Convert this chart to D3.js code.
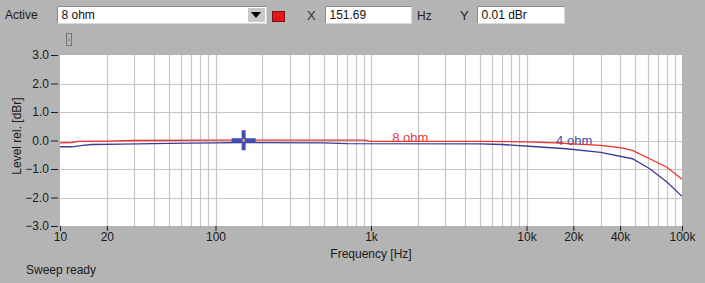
<!DOCTYPE html>
<html><head><meta charset="utf-8">
<script src="https://cdn.jsdelivr.net/npm/d3@7"></script>
<style>
html,body{margin:0;padding:0;background:#b4b4b4;}
svg{display:block;font-family:"Liberation Sans",Arial,sans-serif;}
</style></head>
<body><svg id="c" width="705" height="283"></svg>
<script>
// ---- data ----
const freq8 = [10, 12, 13, 20, 30, 100, 150, 300, 900, 1000, 5000, 10000, 15000, 20000, 30000, 40000, 48000, 62000, 80000, 100000];
const level8 = [-0.08, -0.07, -0.03, -0.02, 0.0, 0.01, 0.01, 0.01, 0.01, -0.03, -0.03, -0.05, -0.08, -0.12, -0.17, -0.25, -0.35, -0.64, -0.94, -1.36];
const freq4 = [10, 12, 14, 16, 25, 50, 100, 150, 500, 700, 5000, 7000, 11000, 18000, 30000, 48000, 62000, 80000, 100000];
const level4 = [-0.22, -0.22, -0.17, -0.14, -0.13, -0.10, -0.08, -0.07, -0.08, -0.11, -0.12, -0.14, -0.21, -0.29, -0.42, -0.64, -0.99, -1.46, -1.96];
const seriesNames = ["8 ohm", "4 ohm"];
const labelFreq = [1370, 15500];
const labelLevel = [0.12, 0.0];
const yTicks = [3, 2, 1, 0, -1, -2, -3];
const xTickVals = [10, 20, 100, 1000, 10000, 20000, 40000, 100000];
const xTickLabels = ["10", "20", "100", "1k", "10k", "20k", "40k", "100k"];
const cursorFreq = 151.69, cursorLevel = 0.01;

// ---- layout ----
const svg = d3.select("#c");
const L = 60, R = 682, T = 55, B = 226;
const x = d3.scaleLog().domain([10, 100000]).range([L, R]);
const y = d3.scaleLinear().domain([-3, 3]).range([B, T]);

// header
const g0 = svg.append("g");
g0.append("text").attr("x", 5).attr("y", 19).attr("font-size", 12).attr("fill", "#1a1a1a").text("Active");
function box(x0, w, txt) {
  g0.append("rect").attr("x", x0).attr("y", 6.5).attr("width", w).attr("height", 17).attr("fill", "#fff").attr("stroke", "#d8d8d8");
  g0.append("line").attr("x1", x0).attr("x2", x0 + w).attr("y1", 6.5).attr("y2", 6.5).attr("stroke", "#8a8a8a");
  g0.append("line").attr("x1", x0).attr("x2", x0).attr("y1", 6.5).attr("y2", 23.5).attr("stroke", "#8a8a8a");
  g0.append("text").attr("x", x0 + 4).attr("y", 19).attr("font-size", 12).attr("fill", "#111").text(txt);
}
box(57.5, 209, "8 ohm");
g0.append("rect").attr("x", 248).attr("y", 8).attr("width", 17).attr("height", 14).attr("fill", "#c8c8c8");
g0.append("path").attr("d", "M251,12 L261,12 L256,18 Z").attr("fill", "#000");
g0.append("rect").attr("x", 272.5).attr("y", 11.5).attr("width", 12).attr("height", 10).attr("fill", "#e8141c").attr("stroke", "#7a1010");
g0.append("text").attr("x", 307).attr("y", 20).attr("font-size", 13).attr("fill", "#333").text("X");
box(325.5, 86, "151.69");
g0.append("text").attr("x", 417).attr("y", 20).attr("font-size", 12).attr("fill", "#222").text("Hz");
g0.append("text").attr("x", 460).attr("y", 20).attr("font-size", 13).attr("fill", "#222").text("Y");
box(477.5, 87, "0.01 dBr");
g0.append("rect").attr("x", 66.5).attr("y", 33.5).attr("width", 5).attr("height", 12).attr("fill", "none").attr("stroke", "#333").attr("stroke-dasharray", "1,1");
g0.append("rect").attr("x", 68.5).attr("y", 39.5).attr("width", 1).attr("height", 1).attr("fill", "#333");

// plot area
svg.append("rect").attr("x", L).attr("y", T).attr("width", R - L).attr("height", B - T).attr("fill", "#fff");

// grid
const grid = svg.append("g").attr("stroke", "#c6c6c6").attr("stroke-width", 1.2);
const minor = [];
for (let d = 10; d < 100000; d *= 10) for (let k = 1; k <= 9; k++) { if (d * k > 10) minor.push(d * k); }
grid.selectAll("line.v").data(minor).join("line")
  .attr("x1", d => Math.round(x(d)) + 0.5).attr("x2", d => Math.round(x(d)) + 0.5)
  .attr("y1", T).attr("y2", B);
grid.selectAll("line.h").data(yTicks.filter(v => v !== 3 && v !== -3)).join("line")
  .attr("x1", L).attr("x2", R)
  .attr("y1", d => Math.round(y(d)) + 0.5).attr("y2", d => Math.round(y(d)) + 0.5);

// axes
const yAxis = d3.axisLeft(y).tickValues(yTicks).tickFormat(d3.format(".1f")).tickSize(7).tickPadding(2);
const ga = svg.append("g").attr("transform", `translate(${L - 2},0)`).call(yAxis);
ga.select(".domain").remove();
ga.selectAll("text").attr("font-size", 12).attr("fill", "#1a1a1a").attr("font-family", "Liberation Sans, Arial, sans-serif");
ga.selectAll("line").attr("stroke", "#1a1a1a");

const xAxis = d3.axisBottom(x).tickValues(xTickVals).tickFormat((d, i) => xTickLabels[i]).tickSize(5).tickPadding(1);
const gx = svg.append("g").attr("transform", `translate(0,${B})`).call(xAxis);
gx.select(".domain").remove();
gx.selectAll("text").attr("font-size", 12).attr("fill", "#1a1a1a").attr("font-family", "Liberation Sans, Arial, sans-serif");
gx.selectAll("line").attr("stroke", "#1a1a1a");

svg.append("text").attr("x", 371).attr("y", 258).attr("text-anchor", "middle").attr("font-size", 12).attr("fill", "#1a1a1a").text("Frequency [Hz]");
svg.append("text").attr("transform", "translate(21,136) rotate(-90)").attr("text-anchor", "middle").attr("font-size", 12).attr("fill", "#1a1a1a").text("Level rel. [dBr]");
svg.append("text").attr("x", 26).attr("y", 274).attr("font-size", 12).attr("fill", "#1a1a1a").text("Sweep ready");

// series labels
const labelColors = ["#e0403a", "#4a4a9c"];
seriesNames.forEach((n, i) => {
  svg.append("text").attr("x", x(labelFreq[i])).attr("y", y(labelLevel[i]) + 4.5)
    .attr("font-size", 13).attr("fill", labelColors[i]).text(n);
});

// lines
const line = d3.line().x(d => x(d[0])).y(d => y(d[1]));
svg.append("path").datum(freq4.map((f, i) => [f, level4[i]])).attr("d", line)
  .attr("fill", "none").attr("stroke", "#3c3c98").attr("stroke-width", 1.3);
svg.append("path").datum(freq8.map((f, i) => [f, level8[i]])).attr("d", line)
  .attr("fill", "none").attr("stroke", "#e8322e").attr("stroke-width", 1.3);

// cursor
const cx = x(cursorFreq), cy = y(cursorLevel);
svg.append("rect").attr("x", cx - 12).attr("y", cy - 2).attr("width", 24).attr("height", 4).attr("fill", "#3c50b4");
svg.append("rect").attr("x", cx - 2).attr("y", cy - 10).attr("width", 4).attr("height", 20).attr("fill", "#3c50b4");
svg.append("circle").attr("cx", cx).attr("cy", cy).attr("r", 1.5).attr("fill", "#e89090");
</script></body></html>
